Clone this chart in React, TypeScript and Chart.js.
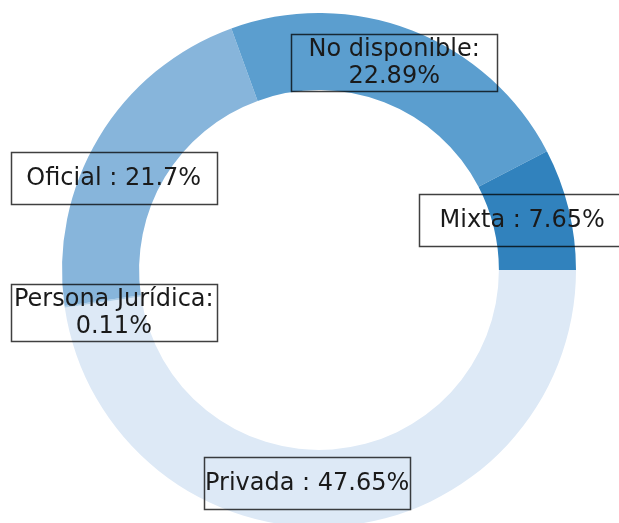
import React, { useEffect, useRef } from "react";
import { Chart, registerables } from "chart.js";

Chart.register(...registerables);

const categories = ["Mixta", "No disponible", "Oficial", "Persona Jurídica", "Privada"];
const shares = [7.65, 22.89, 21.7, 0.11, 47.65];
const sliceColors = ["#3182bd", "#5b9ecf", "#87b5db", "#b0cfe8", "#dde9f6"];
// label nudges relative to the wedge's mid-ring point (px)
const labelNudges: [number, number][] = [
  [-9, 2],
  [-4, -4],
  [-18, 20],
  [11, 11],
  [-28, -5],
];

function labelLines(name: string, v: number): string[] {
  return name.length > 12 ? [name + ":", v + "%"] : [name + " : " + v + "%"];
}

const W = 640;
const H = 540;

export default function App() {
  const ref = useRef<HTMLCanvasElement>(null);
  useEffect(() => {
    if (!ref.current) return;
    // Chart.js goes clockwise; matplotlib goes counter-clockwise from 3 o'clock
    const order = categories.map((_, i) => i).reverse();
    const labelPlugin = {
      id: "boxLabels",
      afterDraw(chart: any) {
        const ctx = chart.ctx;
        const meta = chart.getDatasetMeta(0);
        ctx.save();
        ctx.font = '24px "DejaVu Sans"';
        ctx.textAlign = "center";
        ctx.textBaseline = "alphabetic";
        meta.data.forEach((arc: any, j: number) => {
          const i = order[j];
          const p = arc.getProps(["x", "y", "startAngle", "endAngle", "innerRadius", "outerRadius"], true);
          const a = (p.startAngle + p.endAngle) / 2;
          const r = (p.innerRadius + p.outerRadius) / 2;
          const cx = p.x + r * Math.cos(a) + labelNudges[i][0];
          const cy = p.y + r * Math.sin(a) + labelNudges[i][1];
          const lines = labelLines(categories[i], shares[i]);
          const bw = 206;
          const bh = lines.length > 1 ? 57 : 52;
          ctx.strokeStyle = "rgba(0,0,0,0.75)";
          ctx.lineWidth = 1.5;
          ctx.strokeRect(Math.round(cx - bw / 2) + 0.5, Math.round(cy - bh / 2) + 0.5, bw, bh);
          ctx.fillStyle = "#1a1a1a";
          if (lines.length > 1) {
            ctx.fillText(lines[0], cx, cy - 6);
            ctx.fillText(lines[1], cx, cy + 21);
          } else {
            ctx.fillText(lines[0], cx, cy + 7);
          }
        });
        ctx.restore();
      },
    };
    const chart = new Chart(ref.current, {
      type: "doughnut",
      data: {
        labels: order.map((i) => categories[i]),
        datasets: [
          {
            data: order.map((i) => shares[i]),
            backgroundColor: order.map((i) => sliceColors[i]),
            borderWidth: 0,
          },
        ],
      },
      options: {
        responsive: false,
        animation: false,
        rotation: 90,
        cutout: "70%",
        layout: { padding: { left: 62, right: 64, top: 13, bottom: 13 } },
        plugins: {
          legend: { display: false },
          tooltip: { enabled: false },
        },
      },
      plugins: [labelPlugin],
    });
    return () => chart.destroy();
  }, []);
  return (
    <div
      style={{
        position: "fixed",
        left: 0,
        top: 0,
        width: 619,
        height: 523,
        overflow: "hidden",
        background: "#fff",
      }}
    >
      <canvas ref={ref} width={W} height={H} style={{ width: W, height: H, display: "block" }} />
    </div>
  );
}
